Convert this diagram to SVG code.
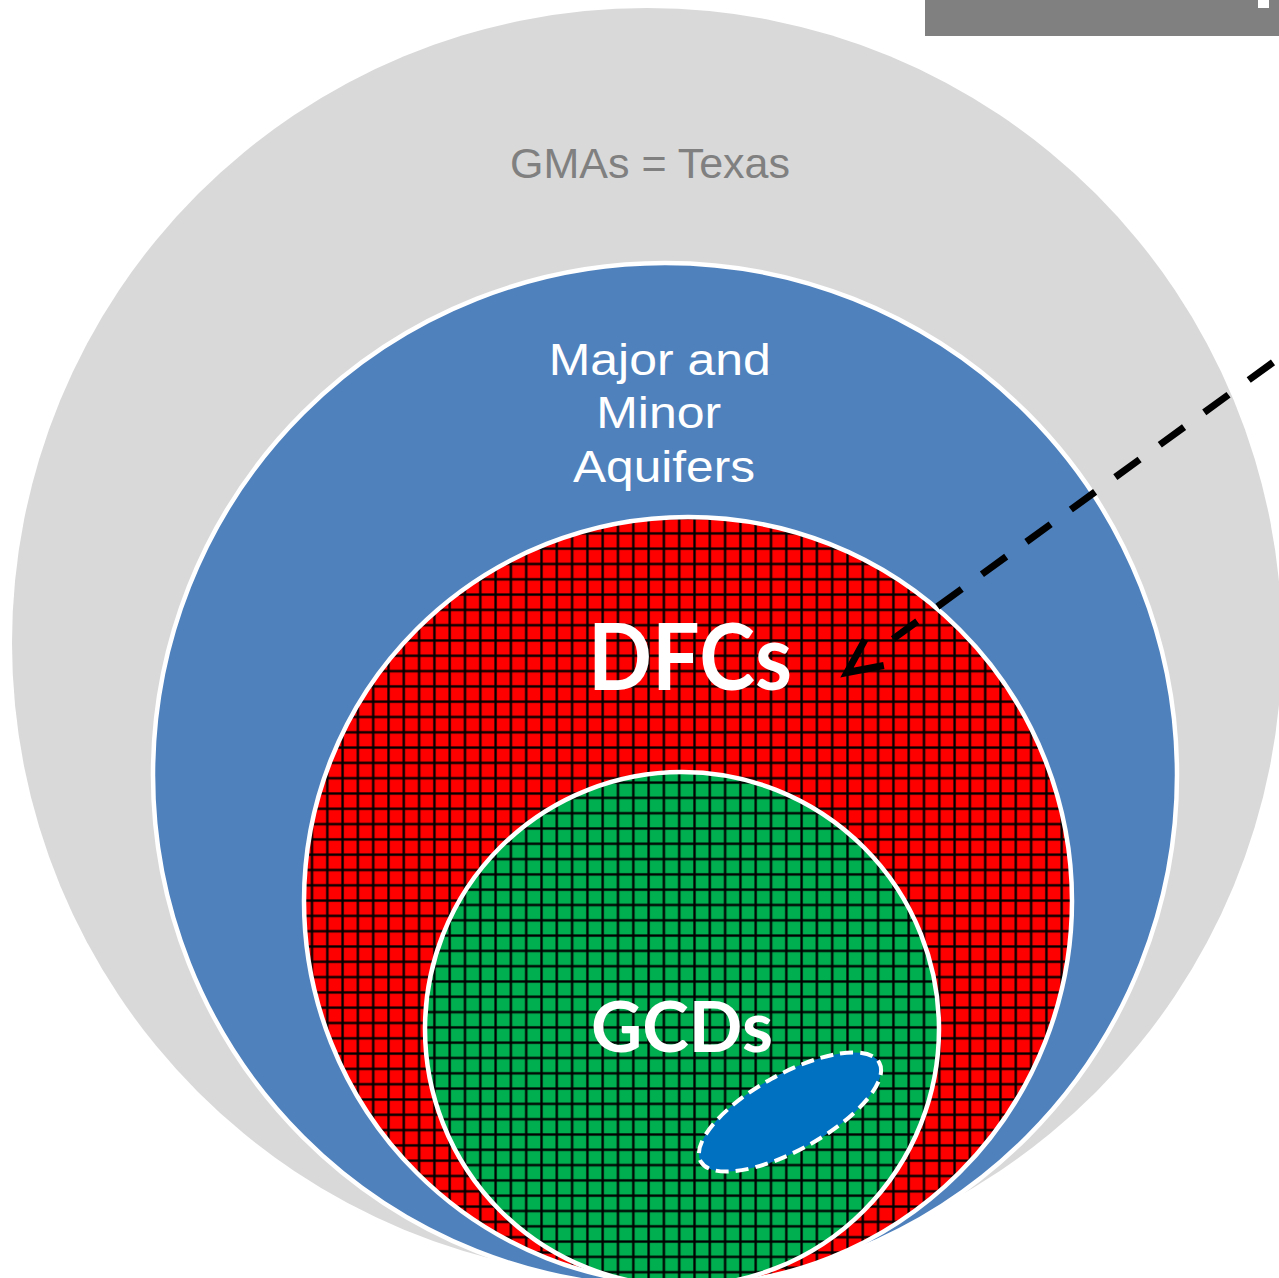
<svg xmlns="http://www.w3.org/2000/svg" width="1279" height="1278" viewBox="0 0 1279 1278">
  <style>
    .ring { stroke: #FFFFFF; stroke-width: 4.5; }
    .lbl { font-family: "Liberation Sans", Arial, sans-serif; text-anchor: middle; }
    .big { font-family: Lato, "Open Sans", sans-serif; font-weight: bold; fill: #FFFFFF; text-anchor: middle; }
  </style>
  <defs>
    <pattern id="gridRed" patternUnits="userSpaceOnUse" x="601.2" y="700.2" width="15.3" height="15.3">
      <rect width="15.3" height="15.3" fill="#FF0000"/>
      <rect x="0" y="0" width="3" height="15.3" fill="#000000" fill-opacity="0.45"/>
      <rect x="0" y="0" width="15.3" height="3" fill="#000000" fill-opacity="0.45"/>
      <rect x="0.6" y="0" width="1.8" height="15.3" fill="#000000"/>
      <rect x="0" y="0.6" width="15.3" height="1.8" fill="#000000"/>
    </pattern>
    <pattern id="gridGreen" patternUnits="userSpaceOnUse" x="601.2" y="903.5" width="15.3" height="15.3">
      <rect width="15.3" height="15.3" fill="#00B050"/>
      <rect x="0" y="0" width="3" height="15.3" fill="#000000" fill-opacity="0.45"/>
      <rect x="0" y="0" width="15.3" height="3" fill="#000000" fill-opacity="0.45"/>
      <rect x="0.6" y="0" width="1.8" height="15.3" fill="#000000"/>
      <rect x="0" y="0.6" width="15.3" height="1.8" fill="#000000"/>
    </pattern>
    <marker id="chev" markerUnits="userSpaceOnUse" markerWidth="120" markerHeight="120" viewBox="-100 -60 120 120" refX="-57" refY="0" orient="auto-start-reverse" overflow="visible">
      <path d="M -34 -16 L 0 0 L -34 16" fill="none" stroke="#000000" stroke-width="7" stroke-linejoin="miter"/>
    </marker>
  </defs>

  <rect width="1279" height="1278" fill="#FFFFFF"/>

  <g id="title-bar">
    <rect x="925" y="0" width="354" height="36" fill="#808080"/>
    <rect x="1258" y="0" width="11" height="8" fill="#FFFFFF"/>
  </g>

  <g id="node-gmas">
    <circle cx="647" cy="643" r="635" fill="#D9D9D9"/>
    <text class="lbl" x="650" y="178" font-size="43" fill="#808080">GMAs = Texas</text>
  </g>

  <g id="node-aquifers">
    <circle class="ring" cx="665" cy="775" r="512" fill="#4F81BD"/>
    <text class="lbl" fill="#FFFFFF" font-size="45">
      <tspan x="666" y="375" textLength="222" lengthAdjust="spacingAndGlyphs">Major and</tspan>
      <tspan x="665" y="428" textLength="125" lengthAdjust="spacingAndGlyphs">Minor</tspan>
      <tspan x="664" y="482" textLength="182" lengthAdjust="spacingAndGlyphs">Aquifers</tspan>
    </text>
  </g>

  <g id="node-dfcs">
    <circle class="ring" cx="688" cy="901" r="384" fill="url(#gridRed)"/>
    <text class="big" x="690" y="690" font-size="92" textLength="204" lengthAdjust="spacingAndGlyphs">DFCs</text>
  </g>

  <g id="node-gcds">
    <circle class="ring" cx="682" cy="1029" r="257" fill="url(#gridGreen)"/>
    <text class="big" x="682" y="1052" font-size="70" textLength="182" lengthAdjust="spacingAndGlyphs">GCDs</text>
  </g>

  <g id="node-area">
    <ellipse cx="790" cy="1112" rx="102" ry="38" transform="rotate(-29 790 1112)" fill="#0070C0" stroke="#FFFFFF" stroke-width="4" stroke-dasharray="13 7"/>
  </g>

  <g id="connectors">
    <path d="M 893 639 L 1290 350" fill="none" stroke="#000000" stroke-width="7" stroke-dasharray="30 25" marker-start="url(#chev)"/>
  </g>
</svg>
